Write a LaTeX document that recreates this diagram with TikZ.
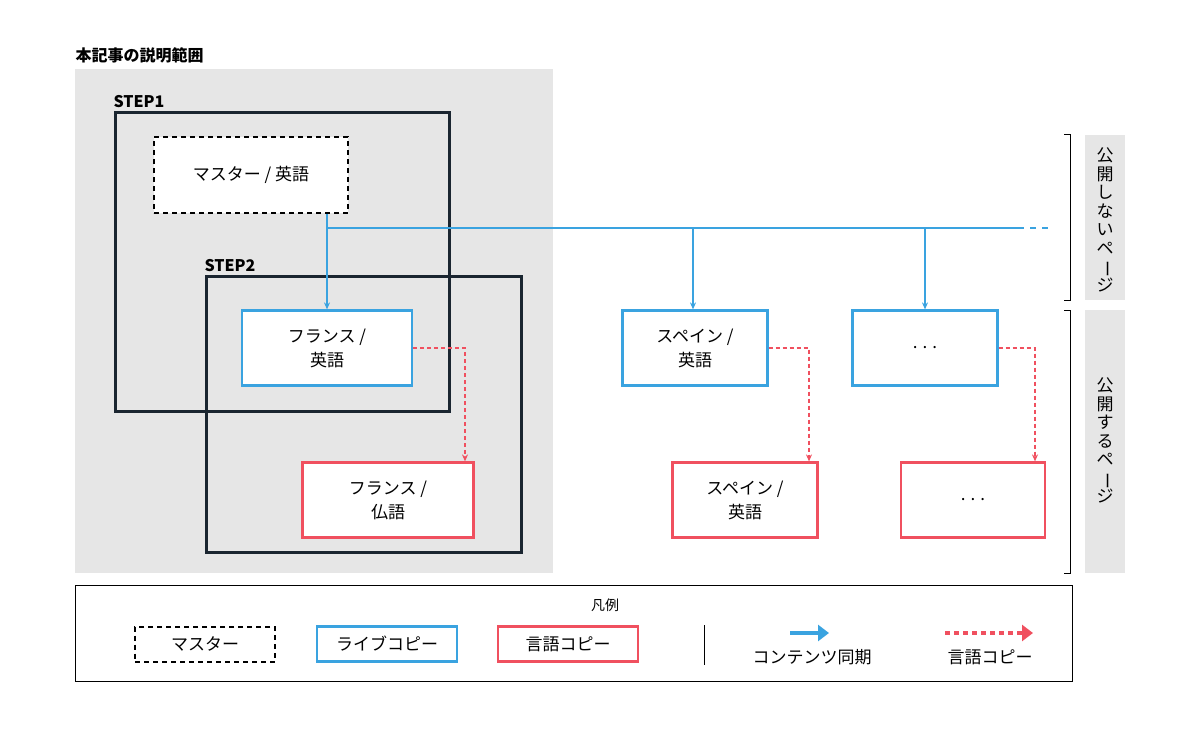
\documentclass[tikz,border=0pt]{standalone}
\usepackage{fontspec}
\setmainfont{Noto Sans CJK JP}
\usetikzlibrary{arrows.meta}
\definecolor{cb}{HTML}{3AA3E0}
\definecolor{cr}{HTML}{F0505F}
\definecolor{cd}{HTML}{1A2530}
\definecolor{cg}{HTML}{E6E6E6}
\newcommand{\vbar}{\makebox[1em][c]{\rotatebox[origin=c]{-90}{ー}}}
\begin{document}
\begin{tikzpicture}[x=1pt,y=-1pt,
 txt/.style={font=\fontsize{17}{24}\selectfont,align=center},
 blue box/.style={draw=cb,line width=2.2pt,fill=white,txt},
 red box/.style={draw=cr,line width=2.2pt,fill=white,txt},
 master/.style={draw=black,line width=2pt,dash pattern=on 5pt off 4pt,fill=white,txt},
 stepbox/.style={draw=cd,line width=3pt},
 sync/.style={cb,line width=1.3pt,-{Stealth[length=7pt,width=6pt]}},
 copy/.style={cr,line width=1.3pt,dash pattern=on 4pt off 3pt,-{Stealth[length=7pt,width=6pt]}},
 lbl/.style={font=\bfseries\fontsize{16}{18}\selectfont,anchor=west},
 vt/.style={font=\fontsize{17}{18.5}\selectfont,align=center,inner sep=0pt}]
\useasboundingbox (0,0) rectangle (1200,730);
\fill[cg] (75,69) rectangle (553,573);
\node[lbl] (title) at (72,55) {本記事の説明範囲};
\node[lbl] (s1) at (110,102) {STEP1};
\node[lbl] (s2) at (201,266) {STEP2};
\draw[stepbox] (115,113) rectangle (449,411);
\draw[stepbox] (206,277) rectangle (521,552);
\node[master,minimum width=194pt,minimum height=76pt] (m) at (251,175) {マスター / 英語};
\node[blue box,minimum width=170pt,minimum height=75pt] (fe) at (327,348) {フランス /\\英語};
\node[red box,minimum width=171pt,minimum height=75pt] (ff) at (388,500) {フランス /\\仏語};
\node[blue box,minimum width=145pt,minimum height=75pt] (se) at (695,348) {スペイン /\\英語};
\node[blue box,minimum width=145pt,minimum height=75pt] (de) at (925,348) {. . .};
\node[red box,minimum width=145pt,minimum height=75pt] (ss) at (745,500) {スペイン /\\英語};
\node[red box,minimum width=144pt,minimum height=75pt] (ds) at (973,500) {. . .};
% sync lines
\coordinate (j1) at (327,228);
\coordinate (j2) at (693,228);
\coordinate (j3) at (925,228);
\coordinate (jend) at (1010,228);
\coordinate (jdash) at (1050,228);
\draw[cb,line width=1.3pt] (m.south -| j1) -- (j1) -- (jend);
\draw[cb,line width=1.3pt,dash pattern=on 14pt off 6pt on 6pt off 6pt on 6pt] (jend) -- (jdash);
\draw[sync] (j1) -- (fe.north);
\draw[sync] (j2) -- (j2 |- se.north);
\draw[sync] (j3) -- (de.north);
% copy lines
\coordinate (c1) at (465,0);
\coordinate (c2) at (809,0);
\coordinate (c3) at (1035,0);
\draw[copy] (fe.east) -| (c1 |- ff.north);
\draw[copy] (se.east) -| (c2 |- ss.north);
\draw[copy] (de.east) -| (c3 |- ds.north);
% brackets
\draw[black,line width=1pt] (1064,135) -- (1070,135) -- (1070,300) -- (1064,300);
\draw[black,line width=1pt] (1064,310) -- (1070,310) -- (1070,573) -- (1064,573);
\fill[cg] (1085,135) rectangle (1125,300);
\fill[cg] (1085,310) rectangle (1125,573);
\node[vt,anchor=north] (v1) at (1105,148) {公\\開\\し\\な\\い\\ペ\\\vbar\\ジ};
\node[vt,anchor=north] (v2) at (1105,378) {公\\開\\す\\る\\ペ\\\vbar\\ジ};
% legend
\draw[black,line width=1pt] (75,585) rectangle (1072,681);
\node[font=\fontsize{14}{16}\selectfont] (leg) at (605,605) {凡例};
\node[master,minimum width=140pt,minimum height=35pt] (lm) at (205,644) {マスター};
\node[blue box,minimum width=140pt,minimum height=35pt] (lb) at (387,644) {ライブコピー};
\node[red box,minimum width=140pt,minimum height=35pt] (lr) at (568,644) {言語コピー};
\draw[black,line width=1pt] (704,625) -- (704,665);
\coordinate (a1) at (790,633); \coordinate (a2) at (829,633);
\draw[cb,line width=4.5pt,-{Triangle[length=11pt,width=16pt]}] (a1) -- (a2);
\node[txt] (lsync) at (812,657) {コンテンツ同期};
\coordinate (b1) at (945,633); \coordinate (b2) at (1033,633);
\draw[cr,line width=4.5pt,dash pattern=on 5pt off 4pt,-{Triangle[length=11pt,width=16pt]}] (b1) -- (b2);
\node[txt] (lcopy) at (990,657) {言語コピー};
\end{tikzpicture}
\end{document}
